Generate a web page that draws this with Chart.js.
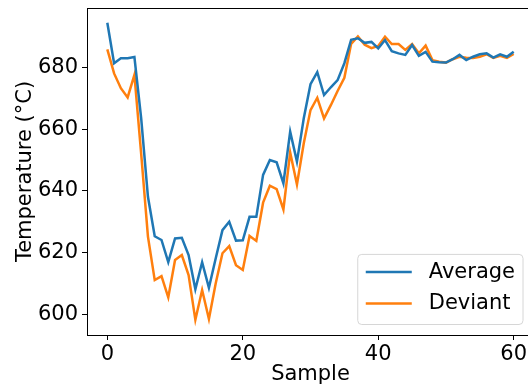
<!DOCTYPE html>
<html>
<head>
<meta charset="utf-8">
<script src="https://cdn.jsdelivr.net/npm/chart.js@4"></script>
<style>
  html, body { margin: 0; padding: 0; background: #fff; overflow: hidden; }
  #wrap { width: 536px; height: 389px; }
</style>
</head>
<body>
<div id="wrap"><canvas id="tempChart" width="536" height="389"></canvas></div>
<script>
// Sample index along the run
const samples = [0, 1, 2, 3, 4, 5, 6, 7, 8, 9, 10, 11, 12, 13, 14, 15, 16, 17, 18, 19,
  20, 21, 22, 23, 24, 25, 26, 27, 28, 29, 30, 31, 32, 33, 34, 35, 36, 37, 38, 39,
  40, 41, 42, 43, 44, 45, 46, 47, 48, 49, 50, 51, 52, 53, 54, 55, 56, 57, 58, 59, 60];

// Temperatures in degrees C
const average = [694.5, 681.4, 683.0, 683.0, 683.4, 663.5, 638.1, 625.3, 624.1, 616.9,
  624.6, 624.8, 619.2, 608.1, 616.9, 608.6, 618.1, 627.3, 630.0, 623.9,
  624.0, 631.6, 631.6, 645.2, 650.0, 649.3, 642.5, 659.2, 649.5, 663.5,
  674.6, 678.5, 671.1, 673.6, 675.9, 681.4, 689.0, 689.5, 688.0, 688.3,
  686.2, 688.9, 685.3, 684.6, 684.1, 687.3, 683.8, 685.1, 681.9, 681.7,
  681.6, 682.7, 684.1, 682.4, 683.5, 684.3, 684.6, 683.2, 684.3, 683.5, 685.1];

const deviant = [685.9, 678.1, 673.3, 670.3, 677.6, 652.0, 625.2, 611.1, 612.4, 605.5,
  617.6, 619.2, 612.7, 598.2, 607.9, 598.5, 610.0, 619.8, 622.1, 615.9,
  614.4, 625.4, 623.8, 636.2, 641.7, 640.6, 634.0, 652.5, 642.1, 655.4,
  666.2, 670.2, 663.5, 667.8, 672.4, 676.7, 687.7, 690.1, 687.4, 686.3,
  687.0, 690.0, 687.6, 687.6, 685.7, 687.6, 684.6, 687.1, 682.4, 681.9,
  681.6, 682.7, 683.5, 683.2, 683.1, 683.5, 684.3, 683.1, 683.8, 683.1, 684.4];

const seriesNames = ['Average', 'Deviant'];
const xTicks = [0, 20, 40, 60];
const yTicks = [600, 620, 640, 660, 680];

const FONT = 'DejaVu Sans';
const FS = 21;

function toPoints(ys) {
  return samples.map((x, i) => ({ x: x, y: ys[i] }));
}

// Boxed legend in the lower right of the plot, plus the top spine
const framePlugin = {
  id: 'frameAndLegend',
  afterDraw(chart) {
    const ctx = chart.ctx;
    const area = chart.chartArea;

    ctx.save();
    ctx.strokeStyle = '#000';
    ctx.lineWidth = 1;
    ctx.beginPath();
    ctx.moveTo(area.left, area.top + 0.5);
    ctx.lineTo(area.right, area.top + 0.5);
    ctx.stroke();

    ctx.font = FS + 'px "' + FONT + '"';
    const sets = chart.data.datasets;
    const pad = 8, handle = 46, gap = 17, rowH = 31.3, edge = 10.5;
    let textW = 0;
    sets.forEach(ds => { textW = Math.max(textW, ctx.measureText(ds.label).width); });
    const w = pad + handle + gap + textW + pad;
    const h = rowH * sets.length + 7.5;
    const x0 = 523 - w;
    const y0 = area.bottom - edge - h;

    // rounded frame
    const r = 4;
    ctx.beginPath();
    ctx.moveTo(x0 + r, y0);
    ctx.arcTo(x0 + w, y0, x0 + w, y0 + h, r);
    ctx.arcTo(x0 + w, y0 + h, x0, y0 + h, r);
    ctx.arcTo(x0, y0 + h, x0, y0, r);
    ctx.arcTo(x0, y0, x0 + w, y0, r);
    ctx.closePath();
    ctx.fillStyle = 'rgba(255,255,255,0.8)';
    ctx.fill();
    ctx.strokeStyle = '#d6d6d6';
    ctx.lineWidth = 1;
    ctx.stroke();

    sets.forEach((ds, i) => {
      const cy = y0 + 17.7 + i * rowH;
      ctx.strokeStyle = ds.borderColor;
      ctx.lineWidth = ds.borderWidth;
      ctx.beginPath();
      ctx.moveTo(x0 + pad, cy);
      ctx.lineTo(x0 + pad + handle, cy);
      ctx.stroke();
      ctx.fillStyle = '#000';
      ctx.textBaseline = 'middle';
      ctx.textAlign = 'left';
      ctx.fillText(ds.label, x0 + pad + handle + gap, cy);
    });
    ctx.restore();
  }
};

const ctx = document.getElementById('tempChart').getContext('2d');
new Chart(ctx, {
  type: 'line',
  data: {
    datasets: [{
      label: seriesNames[0],
      data: toPoints(average),
      borderColor: '#1f77b4',
      borderWidth: 2.5,
      pointRadius: 0,
      tension: 0,
      fill: false
    }, {
      label: seriesNames[1],
      data: toPoints(deviant),
      borderColor: '#ff7f0e',
      borderWidth: 2.5,
      pointRadius: 0,
      tension: 0,
      fill: false
    }]
  },
  options: {
    responsive: false,
    animation: false,
    events: [],
    layout: { padding: { left: 0, right: 2, top: 8, bottom: 0 } },
    plugins: {
      legend: { display: false },
      tooltip: { enabled: false }
    },
    scales: {
      x: {
        type: 'linear',
        min: -3,
        max: 63,
        afterBuildTicks: scale => { scale.ticks = xTicks.map(v => ({ value: v })); },
        afterFit: scale => {
          scale.height = 54;
          scale.paddingLeft = 0;
          scale.paddingRight = 0;
        },
        grid: { drawOnChartArea: false, tickLength: 5, color: '#000', tickColor: '#000' },
        border: { color: '#000', width: 1 },
        ticks: { color: '#000', padding: 2, font: { family: FONT, size: FS }, maxRotation: 0 },
        title: {
          display: true,
          text: 'Sample',
          color: '#000',
          font: { family: FONT, size: FS, lineHeight: 1.2 },
          padding: { top: 0, bottom: 2 }
        }
      },
      y: {
        min: 593.3,
        max: 699.3,
        afterBuildTicks: scale => { scale.ticks = yTicks.map(v => ({ value: v })); },
        afterFit: scale => {
          scale.width = 87;
          scale.paddingTop = 0;
          scale.paddingBottom = 0;
        },
        grid: { drawOnChartArea: false, tickLength: 5, color: '#000', tickColor: '#000' },
        border: { color: '#000', width: 1 },
        ticks: { color: '#000', padding: 4, font: { family: FONT, size: FS } },
        title: {
          display: true,
          text: 'Temperature (°C)',
          color: '#000',
          font: { family: FONT, size: FS, lineHeight: 1.2 },
          padding: { top: 13, bottom: 0 }
        }
      }
    }
  },
  plugins: [framePlugin]
});
</script>
</body>
</html>
